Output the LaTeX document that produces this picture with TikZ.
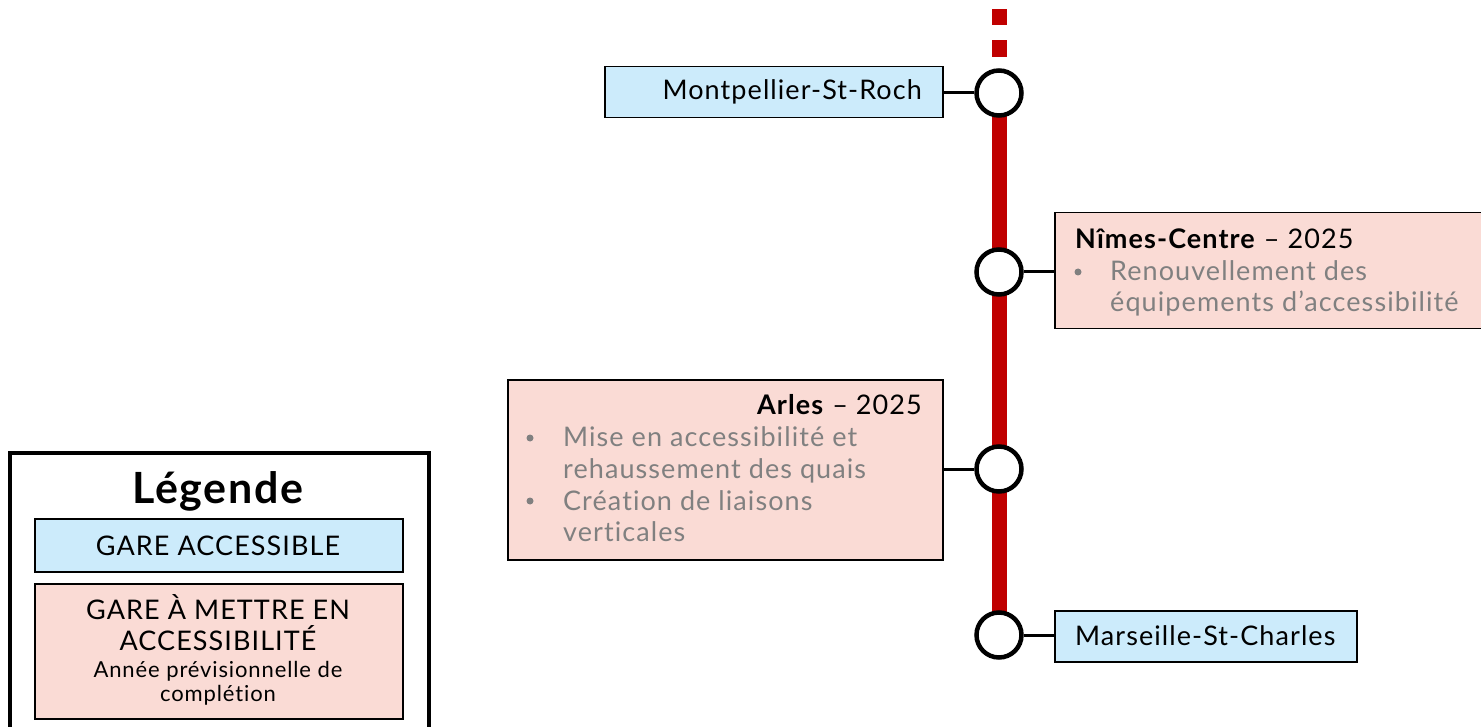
\documentclass[tikz,border=0pt]{standalone}
\usepackage{fontspec}
\setmainfont{Lato}[LetterSpace=4, RawFeature={-liga;-clig;-dlig}]
\definecolor{gblue}{HTML}{CCEBFB}
\definecolor{gpink}{HTML}{FADBD5}
\definecolor{gred}{HTML}{C00000}
\definecolor{ggray}{HTML}{808080}
\tikzset{
  box/.style={draw=black, line width=1.5pt, inner sep=0pt, anchor=north west},
  bluebox/.style={box, fill=gblue},
  pinkbox/.style={box, fill=gpink},
  stn/.style={circle, draw=black, fill=white, line width=4.5pt, minimum size=45pt, inner sep=0pt},
  link/.style={line width=3pt, black},
  txt/.style={inner sep=0pt, font=\fontsize{27}{31.5}\selectfont},
  gtxt/.style={txt, text=ggray},
  bul/.style={circle, fill=ggray, inner sep=0pt, minimum size=7pt},
  small/.style={inner sep=0pt, font=\fontsize{22}{24}\selectfont},
}
\begin{document}
\begin{tikzpicture}[x=1pt,y=-1pt]
\useasboundingbox (0,0) rectangle (1481,727);
% line
\draw[gred, line width=15pt] (999,93) -- (999,635);
\fill[gred] (991.5,9) rectangle (1006.5,25);
\fill[gred] (991.5,40) rectangle (1006.5,57);
% boxes
\node[bluebox, minimum width=338pt, minimum height=51pt] (mbox) at (604,66) {};
\node[pinkbox, minimum width=440pt, minimum height=116pt] (nbox) at (1054,212) {};
\node[pinkbox, minimum width=435pt, minimum height=180pt] (abox) at (507,379) {};
\node[bluebox, minimum width=302pt, minimum height=51pt] (sbox) at (1054,610) {};
% stations
\node[stn] (m) at (999,93) {};
\node[stn] (n) at (999,272) {};
\node[stn] (a) at (999,469) {};
\node[stn] (s) at (999,635) {};
\draw[link] (m.west) -- (m.west -| mbox.east);
\draw[link] (n.east) -- (n.east -| nbox.west);
\draw[link] (a.west) -- (a.west -| abox.east);
\draw[link] (s.east) -- (s.east -| sbox.west);
% texts
\node[txt, anchor=base east] (mt) at (922,100) {Montpellier-St-Roch};
\node[txt, anchor=base west] (st) at (1075,645) {Marseille-St-Charles};
\node[txt, anchor=base west] (nt) at (1075,249) {\textbf{Nîmes-Centre} – 2025};
\node[bul] (nb1) at (1078,272) {};
\node[gtxt, anchor=base west] (n1) at (1110,281) {Renouvellement des};
\node[gtxt, anchor=base west] (n2) at (1110,312) {équipements d’accessibilité};
\node[txt, anchor=base east] (at) at (922,414) {\textbf{Arles} – 2025};
\node[bul] (ab1) at (530,438) {};
\node[gtxt, anchor=base west] (a1) at (563,446) {Mise en accessibilité et};
\node[gtxt, anchor=base west] (a2) at (563,478) {rehaussement des quais};
\node[bul] (ab2) at (530,501) {};
\node[gtxt, anchor=base west] (a3) at (563,510) {Création de liaisons};
\node[gtxt, anchor=base west] (a4) at (563,541) {verticales};
% legend
\draw[line width=4pt] (10,740) -- (10,453) -- (429,453) -- (429,740);
\node[inner sep=0pt, anchor=base, font=\fontsize{43}{48}\selectfont\bfseries] (lt) at (218,503) {Légende};
\node[bluebox, minimum width=368pt, minimum height=53pt] (lb) at (34,518) {};
\node[pinkbox, minimum width=368pt, minimum height=135pt] (lp) at (34,583) {};
\node[txt, anchor=base] (l1) at (218,555) {GARE ACCESSIBLE};
\node[txt, anchor=base] (l2) at (218,619) {GARE À METTRE EN};
\node[txt, anchor=base] (l3) at (218,650) {ACCESSIBILITÉ};
\node[small, anchor=base] (l4) at (218,677) {Année prévisionnelle de};
\node[small, anchor=base] (l5) at (218,701) {complétion};
\end{tikzpicture}
\end{document}
